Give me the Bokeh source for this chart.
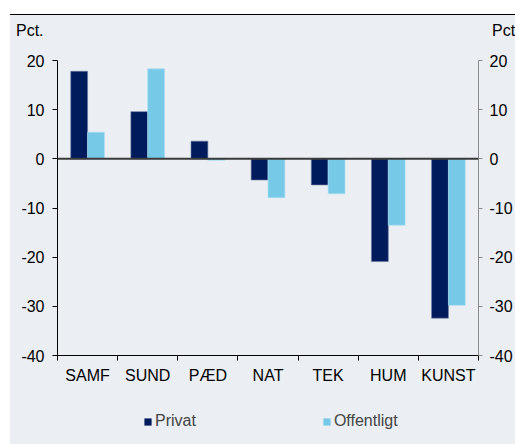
import numpy as np
from bokeh.plotting import figure
from bokeh.layouts import column
from bokeh.models import (ColumnDataSource, Range1d, LinearAxis, FixedTicker, Span,
                          Legend, LegendItem, Div)
from bokeh.transform import dodge
from bokeh.embed import file_html
from bokeh.resources import INLINE

categories = ["SAMF", "SUND", "PÆD", "NAT", "TEK", "HUM", "KUNST"]
privat = [17.8, 9.6, 3.6, -4.3, -5.3, -20.9, -32.4]
offentligt = [5.4, 18.3, -0.3, -7.9, -7.1, -13.5, -29.8]
y_ticks = [-40, -30, -20, -10, 0, 10, 20]
y_tick_labels = ["-40", "-30", "-20", "-10", "0", "10", "20"]
series_names = ["Privat", "Offentligt"]
unit_left = "Pct."
unit_right = "Pct"

BG = "#EBEEF2"
C_PRIV = "#001B5C"
C_OFF = "#77CAE7"
FONT = "Liberation Sans"
W = 505

# ---- top strip with unit labels (above the left and right axes)
span_css = "position:absolute;top:8px;"
top = Div(width=W, height=36, margin=0,
          text=(f'<div style="position:relative;width:{W}px;height:36px;'
                f"font-family:'{FONT}';font-size:16px;line-height:16px;color:black;"
                'white-space:nowrap;overflow:hidden">'
                f'<span style="{span_css}left:6px">{unit_left}</span>'
                f'<span style="{span_css}left:482px">{unit_right}</span></div>'),
          styles={"background-color": BG, "border-top": "1px solid black"})

# ---- main chart
pos = np.arange(len(categories)) + 0.5
src = ColumnDataSource(dict(x=pos, cat=categories, privat=privat, offentligt=offentligt))

p = figure(width=W, height=339, output_backend="svg", toolbar_location=None,
           x_range=Range1d(0, len(categories)), y_range=Range1d(-40, 20),
           background_fill_color=BG, border_fill_color=BG,
           min_border_left=47, min_border_top=10, min_border_bottom=34, min_border_right=10,
           x_axis_location=None, y_axis_location=None)
p.outline_line_color = None
p.grid.visible = False

bar_kw = dict(width=0.28, source=src, line_width=0.6)
p.vbar(x=dodge("x", -0.14, range=p.x_range), top="privat",
       fill_color=C_PRIV, line_color="#6A78A0", **bar_kw)
p.vbar(x=dodge("x", 0.14, range=p.x_range), top="offentligt",
       fill_color=C_OFF, line_color="#A8DDF0", **bar_kw)

p.add_layout(Span(location=0, dimension="width", line_color="#3A3A3A", line_width=2))

xax = LinearAxis(ticker=FixedTicker(ticks=list(pos), minor_ticks=list(range(len(categories) + 1))))
xax.major_label_overrides = {float(v): c for v, c in zip(pos, categories)}
xax.major_tick_line_color = None
xax.major_tick_out = 5
xax.minor_tick_out = 5
xax.minor_tick_in = 0
xax.minor_tick_line_color = "black"
xax.axis_line_color = "black"
xax.major_label_standoff = 6
xax.major_label_text_font = FONT
xax.major_label_text_font_size = "16px"
xax.major_label_text_color = "black"
p.add_layout(xax, "below")

ylab = {float(v): s for v, s in zip(y_ticks, y_tick_labels)}

yl = LinearAxis(ticker=FixedTicker(ticks=y_ticks))
yl.major_label_overrides = ylab
yl.axis_line_color = "black"
yl.major_tick_line_color = "black"
yl.major_tick_out = 5
yl.major_tick_in = 0
yl.minor_tick_line_color = None
yl.major_label_standoff = 8
yl.major_label_text_font = FONT
yl.major_label_text_font_size = "16px"
yl.major_label_text_color = "black"
p.add_layout(yl, "left")

yr = LinearAxis(ticker=FixedTicker(ticks=y_ticks))
yr.major_label_overrides = ylab
yr.axis_line_color = "#8A8A8A"
yr.major_tick_line_color = "#8A8A8A"
yr.major_tick_out = 4
yr.major_tick_in = 0
yr.minor_tick_line_color = None
yr.major_label_standoff = 7
yr.major_label_text_font = FONT
yr.major_label_text_font_size = "16px"
yr.major_label_text_color = "black"
p.add_layout(yr, "right")

# ---- bottom strip with legend (hidden copies of the series supply the legend swatches)
bot = figure(width=W, height=55, output_backend="svg", toolbar_location=None,
             x_range=Range1d(0, len(categories)), y_range=Range1d(-40, 20),
             background_fill_color=BG, border_fill_color=BG,
             min_border=0, x_axis_location=None, y_axis_location=None)
bot.outline_line_color = None
bot.grid.visible = False
g1 = bot.vbar(x="x", top="privat", width=0.28, source=src, fill_color=C_PRIV,
              line_color=None, visible=False)
g2 = bot.vbar(x="x", top="offentligt", width=0.28, source=src, fill_color=C_OFF,
              line_color=None, visible=False)
legend = Legend(items=[LegendItem(label=series_names[0], renderers=[g1]),
                       LegendItem(label=series_names[1], renderers=[g2])],
                orientation="horizontal", location=(86, 14),
                glyph_width=9, glyph_height=9, label_height=9, label_standoff=3,
                spacing=126, padding=0, margin=0, inactive_fill_alpha=0,
                label_text_font=FONT, label_text_font_size="16px",
                border_line_color=None, background_fill_alpha=0)
bot.add_layout(legend, "center")

layout = column(top, p, bot, spacing=0, margin=(14, 0, 0, 10),
                styles={"background-color": BG})
open("out.html", "w").write(file_html(layout, INLINE))
